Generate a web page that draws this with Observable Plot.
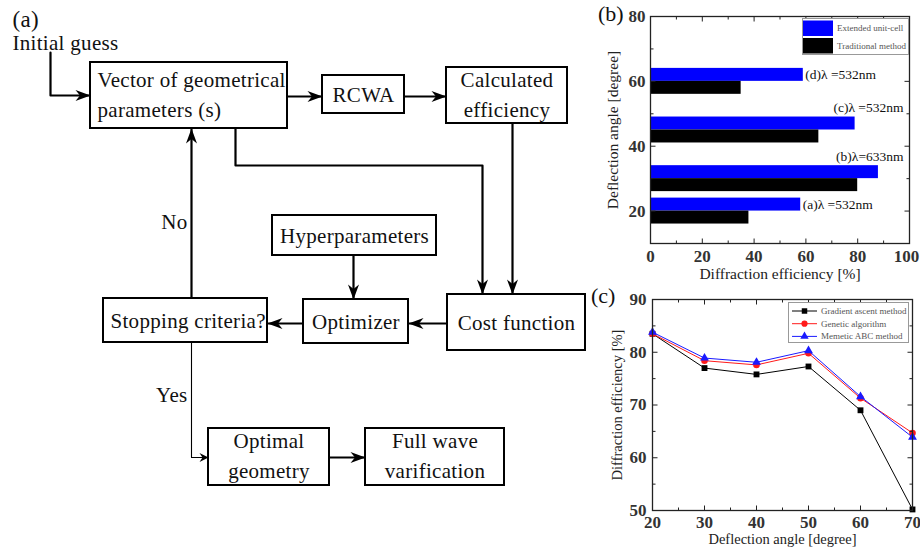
<!DOCTYPE html>
<html><head><meta charset="utf-8">
<script src="https://cdn.jsdelivr.net/npm/d3@7"></script>
<script src="https://cdn.jsdelivr.net/npm/@observablehq/plot@0.6"></script>
<style>
html,body{margin:0;padding:0;background:#fff;}
#page{position:relative;width:920px;height:548px;overflow:hidden;background:#fff;font-family:"Liberation Serif","Times New Roman",Times,serif;}
.abs{position:absolute;}
.tag{position:absolute;font-size:22px;line-height:22px;color:#111;white-space:nowrap;}
</style></head><body><div id="page"></div>
<script>
// ---------- Panel (b) data ----------
const angleB = [20, 30, 45, 60];
const extendedB = [58, 88, 79, 59];
const traditionalB = [38, 80, 65, 35];
const wavelengthLabels = ["(a)\u03bb =532nm", "(b)\u03bb=633nm", "(c)\u03bb =532nm", "(d)\u03bb =532nm"];
const seriesB = ["Extended unit-cell", "Traditional method"];
const colorsB = ["#0000ff", "#000000"];
const xTicksB = [0, 20, 40, 60, 80, 100];
const xMinorB = [10, 30, 50, 70, 90];
const yTicksB = [20, 40, 60, 80];
const yMinorB = [30, 50, 70];

// ---------- Panel (c) data ----------
const angleC = [20, 30, 40, 50, 60, 70];
const gradientC = [83.5, 77.0, 75.8, 77.3, 69.0, 50.2];
const geneticC = [83.5, 78.4, 77.6, 79.8, 71.3, 64.7];
const memeticC = [83.8, 78.9, 78.1, 80.3, 71.6, 63.9];
const seriesC = ["Gradient ascent method", "Genetic algorithm", "Memetic ABC method"];
const colorsC = ["#000000", "#ff1a1a", "#1a1aff"];
const symbolsC = ["square", "circle", "triangle"];
const xTicksC = [20, 30, 40, 50, 60, 70];
const xMinorC = [25, 35, 45, 55, 65];
const yTicksC = [50, 60, 70, 80, 90];
const yMinorC = [55, 65, 75, 85];

// ---------- Panel (a) flowchart ----------
const flowNodes = [
  {id: "vec", lines: ["Vector of geometrical", "parameters (s)"], align: "start"},
  {id: "rcwa", lines: ["RCWA"], align: "middle"},
  {id: "calc", lines: ["Calculated", "efficiency"], align: "middle"},
  {id: "hyper", lines: ["Hyperparameters"], align: "middle"},
  {id: "stop", lines: ["Stopping criteria?"], align: "start"},
  {id: "opt", lines: ["Optimizer"], align: "middle"},
  {id: "cost", lines: ["Cost function"], align: "middle"},
  {id: "optimal", lines: ["Optimal", "geometry"], align: "middle"},
  {id: "full", lines: ["Full wave", "varification"], align: "middle"}
];
const flowEdges = ["init", "vec-rcwa", "rcwa-calc", "vec-cost", "calc-cost", "hyper-opt", "cost-opt", "opt-stop", "no", "yes", "optimal-full"];
const flowLabels = ["(a)", "Initial guess", "No", "Yes"];

// layout of the diagram (pixel frame of the flowchart)
const nodeBox = {
  vec: [90, 62, 287, 128], rcwa: [322, 75, 404, 113], calc: [446, 67, 567, 123],
  hyper: [272, 215, 436, 255], stop: [103, 298, 267, 342], opt: [303, 299, 408, 343],
  cost: [447, 294, 585, 350], optimal: [208, 428, 329, 485], full: [365, 428, 504, 485]
};
const edgeRoute = {
  "init": [[50, 52], [50, 95], [90, 95]],
  "vec-rcwa": [[287, 96], [322, 96]],
  "rcwa-calc": [[404, 96], [446, 96]],
  "vec-cost": [[235, 128], [235, 165], [482, 165], [482, 294]],
  "calc-cost": [[512, 123], [512, 294]],
  "hyper-opt": [[353, 255], [353, 299]],
  "cost-opt": [[447, 323], [408, 323]],
  "opt-stop": [[303, 323], [267, 323]],
  "no": [[191, 298], [191, 128]],
  "yes": [[191, 342], [191, 457], [208, 457]],
  "optimal-full": [[329, 457], [365, 457]]
};
const thinEdges = new Set(["yes"]);
const labelPos = {"(a)": [12, 26, "start", 23], "Initial guess": [12, 49, "start", 21], "No": [187, 228, "end", 21], "Yes": [187, 401, "end", 21]};

const FONT = '"Liberation Serif", "Times New Roman", Times, serif';
const page = document.getElementById("page");
function place(node, left, top, w, h) {
  const d = document.createElement("div");
  d.className = "abs";
  Object.assign(d.style, {left: left + "px", top: top + "px", width: w + "px", height: h + "px"});
  d.appendChild(node);
  page.appendChild(d);
  return d;
}
const seg = (dx, dy) => ({draw(ctx) { ctx.moveTo(0, 0); ctx.lineTo(dx, dy); }});
function arrowHead(dx, dy, len, half, notch) {
  const n = Math.hypot(dx, dy), c = dx / n, s = dy / n;
  const pts = [[0, 0], [-len, -half], [-len + notch, 0], [-len, half]];
  return {draw(ctx) {
    pts.forEach(([px, py], i) => { const X = px * c - py * s, Y = px * s + py * c; if (i) ctx.lineTo(X, Y); else ctx.moveTo(X, Y); });
    ctx.closePath();
  }};
}
function frameTicks(xMaj, xMin, yMaj, yMin) {
  const st = {stroke: "#222", fill: "none", strokeWidth: 1};
  const L = 5, l = 3;
  return [
    Plot.dot(xMaj, {x: d => d, frameAnchor: "bottom", symbol: seg(0, -L), ...st}),
    Plot.dot(xMaj, {x: d => d, frameAnchor: "top", symbol: seg(0, L), ...st}),
    Plot.dot(xMin, {x: d => d, frameAnchor: "bottom", symbol: seg(0, -l), ...st}),
    Plot.dot(xMin, {x: d => d, frameAnchor: "top", symbol: seg(0, l), ...st}),
    Plot.dot(yMaj, {y: d => d, frameAnchor: "left", symbol: seg(L, 0), ...st}),
    Plot.dot(yMaj, {y: d => d, frameAnchor: "right", symbol: seg(-L, 0), ...st}),
    Plot.dot(yMin, {y: d => d, frameAnchor: "left", symbol: seg(l, 0), ...st}),
    Plot.dot(yMin, {y: d => d, frameAnchor: "right", symbol: seg(-l, 0), ...st})
  ];
}
const tickText = {tickSize: 0, tickPadding: 6, fontSize: 17, fontWeight: "bold", fill: "#333", label: null};

// ================= Flowchart (a) =================
const boxes = flowNodes.map(n => { const [x1, y1, x2, y2] = nodeBox[n.id]; return {...n, x1, y1, x2, y2}; });
const boxText = boxes.flatMap(b => {
  const cy = (b.y1 + b.y2) / 2;
  return b.lines.map((t, i) => ({
    text: t, align: b.align,
    x: b.align === "start" ? b.x1 + 7 : (b.x1 + b.x2) / 2,
    y: b.lines.length === 1 ? cy + 7 : cy - 9 + 30 * i
  }));
});
const edgeRows = flowEdges.flatMap(e => edgeRoute[e].map(([x, y]) => ({edge: e, x, y})));
const heads = flowEdges.map(e => {
  const r = edgeRoute[e], a = r[r.length - 2], b = r[r.length - 1];
  const thin = thinEdges.has(e);
  return Plot.dot([{x: b[0], y: b[1]}], {x: "x", y: "y", fill: "#000", stroke: "none",
    symbol: thin ? arrowHead(b[0] - a[0], b[1] - a[1], 9, 4.5, 3) : arrowHead(b[0] - a[0], b[1] - a[1], 15, 5.5, 4.5)});
});
const freeLabels = flowLabels.map(t => ({text: t, x: labelPos[t][0], y: labelPos[t][1], anchor: labelPos[t][2], size: labelPos[t][3]}));

const flow = Plot.plot({
  width: 590, height: 548, margin: 0,
  x: {domain: [0, 590], range: [0, 590], axis: null},
  y: {domain: [0, 548], range: [0, 548], axis: null},
  style: {fontFamily: FONT, background: "transparent", overflow: "visible", letterSpacing: "0.3px"},
  marks: [
    Plot.line(edgeRows.filter(d => !thinEdges.has(d.edge)), {x: "x", y: "y", z: "edge", stroke: "#000", strokeWidth: 2.2}),
    Plot.line(edgeRows.filter(d => thinEdges.has(d.edge)), {x: "x", y: "y", z: "edge", stroke: "#000", strokeWidth: 1.1}),
    Plot.rect(boxes, {x1: "x1", x2: "x2", y1: "y1", y2: "y2", fill: "#fff", stroke: "#000", strokeWidth: 2}),
    ...heads,
    Plot.text(boxText.filter(d => d.align === "start"), {x: "x", y: "y", text: "text", textAnchor: "start", lineAnchor: "bottom", fontSize: 21, fill: "#111"}),
    Plot.text(boxText.filter(d => d.align === "middle"), {x: "x", y: "y", text: "text", textAnchor: "middle", lineAnchor: "bottom", fontSize: 21, fill: "#111"}),
    Plot.text(freeLabels.filter(d => d.anchor === "start"), {x: "x", y: "y", text: "text", textAnchor: "start", lineAnchor: "bottom", fontSize: d => d.size, fill: "#111"}),
    Plot.text(freeLabels.filter(d => d.anchor === "end"), {x: "x", y: "y", text: "text", textAnchor: "end", lineAnchor: "bottom", fontSize: 21, fill: "#111"})
  ]
});
place(flow, 0, 0, 590, 548);

// ================= Panel (b) =================
const barW = 4;
const barRows = angleB.flatMap((a, i) => [
  {series: seriesB[0], angle: a, value: extendedB[i]},
  {series: seriesB[1], angle: a, value: traditionalB[i]}
]);
const labelRows = angleB.map((a, i) => ({angle: a, value: extendedB[i], text: wavelengthLabels[i]}));
const xMaxB = xTicksB[xTicksB.length - 1];
const plotB = Plot.plot({
  width: 320, height: 280, marginLeft: 50, marginRight: 11, marginTop: 16, marginBottom: 37,
  x: {domain: [0, xMaxB]}, y: {domain: [10, 80]},
  color: {domain: seriesB, range: colorsB},
  style: {fontFamily: FONT, background: "transparent", overflow: "visible"},
  marks: [
    Plot.rect(barRows, {x1: 0, x2: "value",
      y1: d => d.series === seriesB[0] ? d.angle : d.angle - barW,
      y2: d => d.series === seriesB[0] ? d.angle + barW : d.angle, fill: "series"}),
    Plot.text(labelRows.filter(d => d.value <= 72), {x: "value", y: d => d.angle + barW / 2, text: "text", textAnchor: "start", dx: 2, fontSize: 13.5, fill: "#111"}),
    Plot.text(labelRows.filter(d => d.value > 72), {x: () => xMaxB, y: d => d.angle + barW, text: "text", textAnchor: "end", dx: -6, dy: -9, fontSize: 13.5, fill: "#111"}),
    Plot.frame({stroke: "#222", strokeWidth: 1.3}),
    ...frameTicks(xTicksB, xMinorB, yTicksB, yMinorB),
    Plot.axisX({ticks: xTicksB.slice(0, -1), ...tickText, tickPadding: 6}),
    Plot.axisX({ticks: [xMaxB], ...tickText, tickPadding: 6, dx: -3}),
    Plot.axisY({ticks: yTicksB, ...tickText, tickPadding: 5}),
    Plot.text(["Diffraction efficiency [%]"], {text: d => d, frameAnchor: "bottom", textAnchor: "middle", dy: 35, lineAnchor: "bottom", fontSize: 15.5, fill: "#222"}),
    Plot.text(["Deflection angle [degree]"], {text: d => d, frameAnchor: "left", textAnchor: "middle", dx: -37, rotate: -90, fontSize: 15.5, fill: "#222"})
  ]
});
place(plotB, 600, 0, 320, 280);

// legend (b)
const legB = d3.create("svg").attr("width", 107).attr("height", 37).style("display", "block").style("font-family", FONT);
legB.append("rect").attr("x", 0.5).attr("y", 0.5).attr("width", 106).attr("height", 36).attr("fill", "#fff").attr("stroke", "#999");
seriesB.forEach((s, i) => {
  legB.append("rect").attr("x", 1).attr("y", 2.5 + 17.5 * i).attr("width", 30).attr("height", 15.5).attr("fill", colorsB[i]);
  legB.append("text").attr("x", 35).attr("y", 10.5 + 17.5 * i).attr("dy", "0.33em").attr("font-size", 9).attr("fill", "#555").text(s);
});
place(legB.node(), 801.5, 17.5, 107, 37);

// ================= Panel (c) =================
const valuesC = [gradientC, geneticC, memeticC];
const rowsC = seriesC.flatMap((s, k) => angleC.map((a, i) => ({series: s, angle: a, value: valuesC[k][i]})));
const plotC = Plot.plot({
  width: 320, height: 268, marginLeft: 52, marginRight: 8, marginTop: 19, marginBottom: 38,
  x: {domain: [20, 70]}, y: {domain: [50, 90]},
  color: {domain: seriesC, range: colorsC},
  symbol: {domain: seriesC, range: symbolsC},
  style: {fontFamily: FONT, background: "transparent", overflow: "visible"},
  marks: [
    ...seriesC.flatMap(s => [
      Plot.line(rowsC.filter(d => d.series === s), {x: "angle", y: "value", stroke: "series", strokeWidth: 1}),
      Plot.dot(rowsC.filter(d => d.series === s), {x: "angle", y: "value", symbol: "series", fill: "series", stroke: "none", r: 3.3})
    ]),
    Plot.frame({stroke: "#222", strokeWidth: 1.3}),
    ...frameTicks(xTicksC, xMinorC, yTicksC, yMinorC),
    Plot.axisX({ticks: xTicksC, ...tickText, tickPadding: 5}),
    Plot.axisY({ticks: yTicksC, ...tickText, tickPadding: 6}),
    Plot.text(["Deflection angle [degree]"], {text: d => d, frameAnchor: "bottom", textAnchor: "middle", dy: 33, lineAnchor: "bottom", fontSize: 14.5, fill: "#222"}),
    Plot.text(["Diffraction efficiency [%]"], {text: d => d, frameAnchor: "left", textAnchor: "middle", dx: -35, rotate: -90, fontSize: 14.5, fill: "#222"})
  ]
});
place(plotC, 600, 280, 320, 268);

// legend (c)
const legC = d3.create("svg").attr("width", 121).attr("height", 41).style("display", "block").style("font-family", FONT);
legC.append("rect").attr("x", 0.5).attr("y", 0.5).attr("width", 120).attr("height", 40).attr("fill", "#fff").attr("stroke", "#999");
const d3Sym = {square: d3.symbolSquare, circle: d3.symbolCircle, triangle: d3.symbolTriangle};
seriesC.forEach((s, i) => {
  const g = legC.append("g").attr("transform", `translate(0,${9 + 12.7 * i})`);
  g.append("line").attr("x1", 4).attr("x2", 29).attr("stroke", colorsC[i]).attr("stroke-width", 1);
  g.append("path").attr("d", d3.symbol(d3Sym[symbolsC[i]], 30)()).attr("transform", "translate(16.5,0)").attr("fill", colorsC[i]);
  g.append("text").attr("x", 33).attr("dy", "0.33em").attr("font-size", 9).attr("fill", "#555").text(s);
});
place(legC.node(), 788, 302, 121, 41);

// panel tags
[["(b)", 598, 2.5], ["(c)", 591, 284.5]].forEach(([t, x, y]) => {
  const d = document.createElement("div");
  d.className = "tag"; d.textContent = t;
  d.style.left = x + "px"; d.style.top = y + "px";
  page.appendChild(d);
});
</script></body></html>
